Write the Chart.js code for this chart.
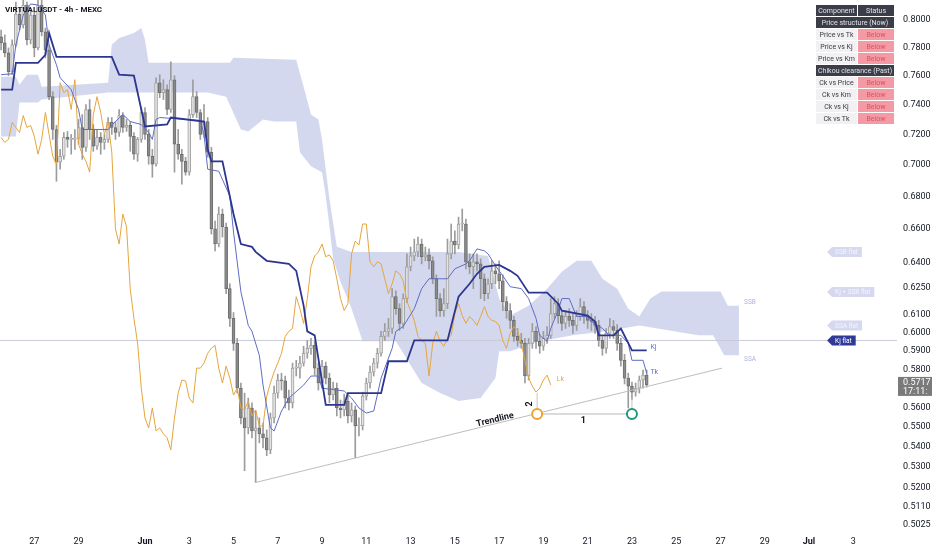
<!DOCTYPE html>
<html>
<head>
<meta charset="utf-8">
<title>VIRTUALUSDT 4h</title>
<script src="https://cdn.jsdelivr.net/npm/chart.js@4.4.0/dist/chart.umd.min.js"></script>
<style>
  body { margin: 0; background: #fff; }
  #wrap { position: relative; width: 932px; height: 550px; overflow: hidden; }
  .title { position: absolute; left: 5px; top: 5px; font: bold 8px Roboto, sans-serif; color: #131722; }
  table.status { position: absolute; left: 815px; top: 4px; border-collapse: separate; border-spacing: 1px; font-family: Roboto, sans-serif; font-size: 7px; }
  table.status td { height: 11px; padding: 0 2px; text-align: center; white-space: nowrap; }
  td.dark { background: #3b3e49; color: #e3e3e6; }
  td.name { background: #f1f1f4; color: #3a3a3a; width: 34px; }
  td.bad { background: #f49aa5; color: #d95262; width: 32px; }
</style>
</head>
<body>
<div id="wrap">
  <canvas id="chart" width="932" height="550"></canvas>
  <div class="title">VIRTUALUSDT - 4h - MEXC</div>
  <table class="status" id="status"></table>
</div>
<script>
// 4h candles, bar 0 = May 25 12:00, last bar = Jun 23 16:00
const firstOpen = 0.7877;
const closes = [
  0.7833, 0.7761, 0.7628, 0.7819, 0.8044, 0.7963, 0.8111, 0.7855, 0.8037, 0.7797,
  0.8111, 0.7913, 0.7783, 0.7455, 0.7233, 0.7018, 0.7057, 0.7180, 0.7167, 0.7167,
  0.7174, 0.7246, 0.7115, 0.7367, 0.7233, 0.7122, 0.7180, 0.7148, 0.7167, 0.7280,
  0.7246, 0.7213, 0.7326, 0.7246, 0.7260, 0.7187, 0.7070, 0.7167, 0.7347, 0.7200,
  0.7057, 0.7005, 0.7551, 0.7483, 0.7503, 0.7367, 0.7572, 0.7135, 0.7070, 0.7024,
  0.6954, 0.7333, 0.7455, 0.7347, 0.7200, 0.7286, 0.7083, 0.6600, 0.6509, 0.6691,
  0.6612, 0.6247, 0.6078, 0.5940, 0.5700, 0.5546, 0.5495, 0.5597, 0.5480, 0.5495,
  0.5465, 0.5445, 0.5385, 0.5546, 0.5674, 0.5743, 0.5738, 0.5648, 0.5623, 0.5806,
  0.5806, 0.5833, 0.5886, 0.5913, 0.5929, 0.5806, 0.5727, 0.5817, 0.5753, 0.5664,
  0.5700, 0.5597, 0.5587, 0.5633, 0.5556, 0.5587, 0.5505, 0.5505, 0.5658, 0.5727,
  0.5785, 0.5833, 0.5886, 0.5978, 0.6006, 0.6022, 0.6201, 0.6133, 0.6050, 0.6190,
  0.6374, 0.6438, 0.6462, 0.6509, 0.6433, 0.6444, 0.6409, 0.6304, 0.6190, 0.6122,
  0.6161, 0.6450, 0.6527, 0.6503, 0.6630, 0.6630, 0.6403, 0.6374, 0.6403, 0.6391,
  0.6304, 0.6218, 0.6275, 0.6350, 0.6333, 0.6292, 0.6173, 0.6122, 0.6067, 0.5978,
  0.5956, 0.5940, 0.5764, 0.5940, 0.6006, 0.5951, 0.5924, 0.5967, 0.5984, 0.6105,
  0.6161, 0.6094, 0.6050, 0.6089, 0.6067, 0.6039, 0.6089, 0.6144, 0.6089, 0.6067,
  0.6061, 0.6039, 0.5956, 0.5913, 0.5995, 0.6033, 0.6011, 0.5940, 0.5848, 0.5753,
  0.5711, 0.5679, 0.5700, 0.5743, 0.5769, 0.5717
];
const highs = [
  0.7927, 0.7891, 0.7797, 0.7855, 0.8134, 0.8089, 0.8149, 0.8134, 0.8074, 0.8059,
  0.8149, 0.8149, 0.7941, 0.7819, 0.7489, 0.7260, 0.7102, 0.7213, 0.7220, 0.7200,
  0.7233, 0.7300, 0.7333, 0.7401, 0.7435, 0.7266, 0.7233, 0.7213, 0.7200, 0.7313,
  0.7313, 0.7286, 0.7367, 0.7347, 0.7300, 0.7286, 0.7213, 0.7180, 0.7380, 0.7380,
  0.7233, 0.7102, 0.7586, 0.7607, 0.7572, 0.7537, 0.7698, 0.7600, 0.7233, 0.7102,
  0.7050, 0.7367, 0.7572, 0.7489, 0.7367, 0.7401, 0.7313, 0.7115, 0.6648, 0.6734,
  0.6722, 0.6636, 0.6275, 0.6111, 0.5967, 0.5727, 0.5674, 0.5648, 0.5623, 0.5581,
  0.5546, 0.5520, 0.5485, 0.5571, 0.5711, 0.5774, 0.5779, 0.5764, 0.5690, 0.5833,
  0.5848, 0.5870, 0.5924, 0.5956, 0.5967, 0.5951, 0.5833, 0.5848, 0.5838, 0.5779,
  0.5732, 0.5727, 0.5638, 0.5669, 0.5658, 0.5623, 0.5607, 0.5546, 0.5679, 0.5753,
  0.5817, 0.5859, 0.5913, 0.6006, 0.6050, 0.6078, 0.6247, 0.6235, 0.6161, 0.6218,
  0.6450, 0.6491, 0.6539, 0.6551, 0.6539, 0.6491, 0.6480, 0.6433, 0.6327, 0.6218,
  0.6247, 0.6539, 0.6630, 0.6588, 0.6672, 0.6722, 0.6660, 0.6450, 0.6450, 0.6450,
  0.6421, 0.6333, 0.6304, 0.6409, 0.6391, 0.6409, 0.6327, 0.6201, 0.6161, 0.6089,
  0.6022, 0.5995, 0.5967, 0.5967, 0.6050, 0.6033, 0.5989, 0.6006, 0.6033, 0.6190,
  0.6201, 0.6190, 0.6122, 0.6122, 0.6133, 0.6105, 0.6122, 0.6190, 0.6173, 0.6122,
  0.6105, 0.6089, 0.6067, 0.5978, 0.6022, 0.6078, 0.6067, 0.6044, 0.5967, 0.5880,
  0.5779, 0.5732, 0.5727, 0.5764, 0.5796, 0.5796
];
const lows = [
  0.7783, 0.7733, 0.7600, 0.7607, 0.7805, 0.7927, 0.7941, 0.7819, 0.7826, 0.7733,
  0.7783, 0.7884, 0.7726, 0.7435, 0.7167, 0.6896, 0.6973, 0.7037, 0.7115, 0.7070,
  0.7102, 0.7135, 0.7037, 0.7089, 0.7167, 0.7089, 0.7102, 0.7070, 0.7102, 0.7148,
  0.7200, 0.7167, 0.7187, 0.7213, 0.7220, 0.7089, 0.7037, 0.7024, 0.7148, 0.7167,
  0.7005, 0.6922, 0.6992, 0.7448, 0.7435, 0.7333, 0.7347, 0.6954, 0.7037, 0.6878,
  0.6935, 0.6935, 0.7313, 0.7313, 0.7167, 0.7180, 0.7050, 0.6569, 0.6468, 0.6492,
  0.6551, 0.6218, 0.6033, 0.5902, 0.5674, 0.5515, 0.5283, 0.5465, 0.5445, 0.5225,
  0.5420, 0.5395, 0.5356, 0.5366, 0.5520, 0.5648, 0.5690, 0.5597, 0.5587, 0.5597,
  0.5764, 0.5753, 0.5817, 0.5859, 0.5880, 0.5769, 0.5690, 0.5700, 0.5722, 0.5623,
  0.5638, 0.5556, 0.5546, 0.5556, 0.5520, 0.5525, 0.5346, 0.5455, 0.5485, 0.5638,
  0.5700, 0.5764, 0.5806, 0.5870, 0.5956, 0.5978, 0.5995, 0.6100, 0.6011, 0.6022,
  0.6167, 0.6350, 0.6409, 0.6433, 0.6391, 0.6409, 0.6362, 0.6275, 0.6089, 0.6089,
  0.6089, 0.6133, 0.6421, 0.6450, 0.6480, 0.6588, 0.6362, 0.6333, 0.6247, 0.6350,
  0.6190, 0.6178, 0.6190, 0.6247, 0.6275, 0.6247, 0.6122, 0.6078, 0.6022, 0.5951,
  0.5924, 0.5913, 0.5727, 0.5743, 0.5913, 0.5913, 0.5886, 0.5902, 0.5940, 0.5967,
  0.6078, 0.6050, 0.6011, 0.6022, 0.6033, 0.5995, 0.6011, 0.6067, 0.6050, 0.6022,
  0.6011, 0.5995, 0.5924, 0.5875, 0.5886, 0.5967, 0.5967, 0.5902, 0.5817, 0.5722,
  0.5597, 0.5638, 0.5658, 0.5674, 0.5700, 0.5706
];

// lagging span = close plotted 26 bars back
const chikouShift = 26;

const tenkanBars = [0, 3, 4, 6, 8, 10, 12, 13, 15, 16, 19, 21, 22, 29, 31, 33, 35, 38, 40, 41,
  42, 43, 54, 55, 56, 59, 62, 63, 65, 67, 68, 70, 71, 73, 74, 76, 78, 82, 84, 86,
  87, 93, 95, 97, 99, 101, 103, 106, 107, 109, 112, 114, 116, 121, 123, 126, 127, 129, 131, 132,
  134, 136, 138, 141, 143, 145, 146, 148, 149, 151, 152, 154, 156, 159, 160, 163, 165, 168, 170, 171,
  174, 175];
const tenkanVals = [0.7607, 0.7614, 0.7819, 0.8037, 0.8119, 0.8111, 0.8037, 0.7819, 0.7677, 0.7586,
  0.7503, 0.7367, 0.7233, 0.7233, 0.7286, 0.7333, 0.7286, 0.7266, 0.7213, 0.7167,
  0.7300, 0.7313, 0.7293, 0.7200, 0.6973, 0.6960, 0.6803, 0.6581, 0.6229, 0.6039,
  0.6006, 0.5875, 0.5716, 0.5495, 0.5480, 0.5581, 0.5648, 0.5716, 0.5764, 0.5764,
  0.5700, 0.5685, 0.5648, 0.5597, 0.5571, 0.5581, 0.5753, 0.5913, 0.6006, 0.6033,
  0.6133, 0.6247, 0.6304, 0.6304, 0.6362, 0.6391, 0.6409, 0.6480, 0.6468, 0.6450,
  0.6380, 0.6321, 0.6258, 0.6247, 0.6190, 0.6078, 0.5984, 0.5951, 0.6022, 0.6122,
  0.6190, 0.6190, 0.6089, 0.6089, 0.6061, 0.6022, 0.5984, 0.5984, 0.5940, 0.5848,
  0.5848, 0.5779];

const kijunBars = [0, 3, 4, 10, 12, 13, 15, 30, 32, 36, 38, 39, 45, 46, 55, 56, 57, 60, 63, 65,
  68, 69, 72, 78, 80, 82, 83, 85, 86, 88, 93, 94, 103, 105, 110, 112, 121, 124, 127, 129,
  131, 135, 138, 140, 143, 148, 151, 152, 159, 161, 162, 166, 168, 171, 175];
const kijunVals = [0.7503, 0.7503, 0.7691, 0.7691, 0.7747, 0.7905, 0.7733, 0.7733, 0.7607, 0.7600,
  0.7367, 0.7253, 0.7266, 0.7313, 0.7286, 0.7102, 0.7024, 0.7024, 0.6691, 0.6509,
  0.6492, 0.6462, 0.6409, 0.6391, 0.6350, 0.6150, 0.6006, 0.5984, 0.5859, 0.5613,
  0.5613, 0.5674, 0.5674, 0.5843, 0.5843, 0.5956, 0.5956, 0.6201, 0.6275, 0.6333,
  0.6374, 0.6385, 0.6350, 0.6321, 0.6224, 0.6224, 0.6161, 0.6122, 0.6094, 0.6061,
  0.5984, 0.5984, 0.6022, 0.5902, 0.5902];

// cloud edges, projected 26 bars ahead
const cloudTopBars = [0, 4, 5, 7, 10, 11, 29, 30, 32, 36, 38, 39, 40, 62, 63, 80, 82, 84, 86, 87,
  89, 91, 95, 124, 132, 135, 138, 143, 148, 152, 156, 160, 163, 167, 170, 173, 176, 179, 195, 197, 200];
const cloudTopVals = [0.7593, 0.7593, 0.7537, 0.7607, 0.7607, 0.7523, 0.7551, 0.7819, 0.7869, 0.7905,
  0.7941, 0.7855, 0.7691, 0.7691, 0.7726, 0.7712, 0.7523, 0.7333, 0.7300, 0.7167,
  0.6784, 0.6492, 0.6462, 0.6462, 0.6438, 0.6190, 0.6094, 0.6150, 0.6247, 0.6345,
  0.6409, 0.6409, 0.6304, 0.6247, 0.6133, 0.6089, 0.6190, 0.6230, 0.6230, 0.6150, 0.6150];
const cloudBottomBars = [0, 4, 5, 10, 11, 29, 56, 61, 65, 67, 71, 74, 80, 81, 84, 87, 88, 89, 90, 92,
  95, 98, 107, 111, 114, 119, 124, 130, 134, 135, 138, 146, 155, 164, 173, 189, 193, 196, 200];
const cloudBottomVals = [0.7187, 0.7187, 0.7415, 0.7415, 0.7435, 0.7483, 0.7483, 0.7455, 0.7233, 0.7220,
  0.7300, 0.7286, 0.7286, 0.7083, 0.6992, 0.6954, 0.6803, 0.6618, 0.6421, 0.6287,
  0.6133, 0.5951, 0.5951, 0.5822, 0.5727, 0.5674, 0.5633, 0.5648, 0.5753, 0.5897,
  0.5897, 0.5951, 0.5984, 0.6006, 0.6039, 0.5984, 0.5984, 0.5875, 0.5875];

const dateTickBars = [9, 21, 39, 51, 63, 75, 87, 99, 111, 123, 135, 147, 159, 171, 183, 195, 207, 219, 231];
const dateTickLabels = ['27', '29', 'Jun', '3', '5', '7', '9', '11', '13', '15', '17', '19', '21', '23', '25', '27', '29', 'Jul', '3'];
const monthTickBars = [39, 219];
const priceTicks = [0.80, 0.78, 0.76, 0.74, 0.72, 0.70, 0.68, 0.66, 0.64, 0.625, 0.61, 0.60, 0.59, 0.58, 0.56, 0.55, 0.54, 0.53, 0.52, 0.511, 0.5025];

const trendBars = [68.8, 195.4];
const trendVals = [0.5225, 0.5806];
const pivotBars = [145.3, 171];
const pivotVal = 0.5566;
const pivotTops = [0.5674, 0.5648];
const kjFlat = 0.5956;
const lastPrice = 0.5717;

const tagTexts = ['SSB flat', 'Kj + SSB flat', 'SSA flat', 'Kj flat'];
const tagVals = [0.6462, 0.6227, 0.6039, 0.5956];

const tableRows = [
  ['Component', 'Status'],
  ['Price structure (Now)'],
  ['Price vs Tk', 'Below'],
  ['Price vs Kj', 'Below'],
  ['Price vs Km', 'Below'],
  ['Chikou clearance (Past)'],
  ['Ck vs Price', 'Below'],
  ['Ck vs Km', 'Below'],
  ['Ck vs Kj', 'Below'],
  ['Ck vs Tk', 'Below']
];

document.getElementById('status').innerHTML = tableRows.map((r, k) => {
  if (r.length === 1) return `<tr><td class="dark" colspan="2">${r[0]}</td></tr>`;
  if (k === 0) return `<tr><td class="dark">${r[0]}</td><td class="dark">${r[1]}</td></tr>`;
  return `<tr><td class="name">${r[0]}</td><td class="bad">${r[1]}</td></tr>`;
}).join('');

const pts = (xs, ys) => xs.map((x, k) => ({ x, y: ys[k] }));
const bars = closes.map((_, i) => i);
const opens = closes.map((c, i) => (i ? closes[i - 1] : firstOpen));
const isUp = i => closes[i] >= opens[i];

const lineBase = { type: 'line', pointRadius: 0, tension: 0, fill: false };

// keep the plot flush with the canvas edges, like the TradingView pane
const noPad = ax => { ax.paddingLeft = 0; ax.paddingRight = 0; ax.paddingTop = 0; ax.paddingBottom = 0; };

const overlay = {
  id: 'overlay',
  afterDatasetsDraw(chart) {
    const { ctx, scales: { x, y } } = chart;
    const X = v => x.getPixelForValue(v);
    const Y = v => y.getPixelForValue(v);
    ctx.save();
    ctx.textBaseline = 'middle';

    const text = (s, bx, val, font, color, align) => {
      ctx.font = font;
      ctx.fillStyle = color;
      ctx.textAlign = align || 'left';
      ctx.fillText(s, X(bx), Y(val));
    };
    text('Lk', 150.6, 0.5748, '7px Roboto', '#e5a53d');
    text('Kj', 176, 0.5918, '7px Roboto', '#5e6cc4');
    text('Tk', 176, 0.5785, '7px Roboto', '#5e6cc4');
    text('SSB', 201.4, 0.6167, '6.5px Roboto', '#aeb4dc');
    text('SSA', 201.4, 0.5854, '6.5px Roboto', '#aeb4dc');
    text('1', 157.8, 0.5530, 'bold 9px Roboto', '#131722', 'center');

    // label along the trendline
    const ang = Math.atan2(Y(trendVals[1]) - Y(trendVals[0]), X(trendBars[1]) - X(trendBars[0]));
    ctx.save();
    ctx.translate(X(133.9), Y(0.5536));
    ctx.rotate(ang);
    ctx.font = 'bold 9px Roboto';
    ctx.fillStyle = '#131722';
    ctx.textAlign = 'center';
    ctx.fillText('Trendline', 0, 0);
    ctx.restore();

    ctx.save();
    ctx.translate(X(143.4), Y(0.5618));
    ctx.rotate(-Math.PI / 2);
    ctx.font = 'bold 9px Roboto';
    ctx.fillStyle = '#131722';
    ctx.textAlign = 'center';
    ctx.fillText('2', 0, 0);
    ctx.restore();

    // state tags on the right
    tagTexts.forEach((s, k) => {
      const px = X(223.9), py = Y(tagVals[k]);
      const dark = k === tagTexts.length - 1;
      ctx.font = '6.5px Roboto';
      const w = ctx.measureText(s).width + 7;
      ctx.beginPath();
      ctx.moveTo(px, py);
      ctx.lineTo(px + 5, py - 5);
      ctx.lineTo(px + 5 + w, py - 5);
      ctx.lineTo(px + 5 + w, py + 5);
      ctx.lineTo(px + 5, py + 5);
      ctx.closePath();
      ctx.fillStyle = dark ? '#2f3a98' : '#d5d8ef';
      ctx.fill();
      ctx.fillStyle = dark ? '#ffffff' : '#f4f5fc';
      ctx.textAlign = 'left';
      ctx.fillText(s, px + 8, py + 0.5);
    });
    ctx.restore();
  },
  afterDraw(chart) {
    const { ctx, chartArea, scales: { y } } = chart;
    const py = y.getPixelForValue(lastPrice);
    ctx.save();
    ctx.fillStyle = '#7a7a7a';
    ctx.fillRect(chartArea.right + 1, py - 8, 34, 19);
    ctx.fillStyle = '#ffffff';
    ctx.font = '9px Roboto';
    ctx.textBaseline = 'middle';
    ctx.textAlign = 'left';
    ctx.fillText(lastPrice.toFixed(4), chartArea.right + 6, py - 2);
    ctx.fillText('17:11:', chartArea.right + 6, py + 7);
    ctx.restore();
  }
};

new Chart(document.getElementById('chart'), {
  type: 'line',
  data: {
    datasets: [
      { ...lineBase, label: 'Cloud top', data: pts(cloudTopBars, cloudTopVals), borderColor: 'transparent', order: 20 },
      { ...lineBase, label: 'Cloud', data: pts(cloudBottomBars, cloudBottomVals), borderColor: 'transparent',
        fill: '-1', backgroundColor: 'rgba(121,134,203,0.32)', order: 19 },
      { ...lineBase, label: 'Kj flat', data: [{ x: -1, y: kjFlat }, { x: 244, y: kjFlat }],
        borderColor: '#c8cad6', borderWidth: 1, order: 15 },
      { type: 'bar', label: 'Wicks', data: bars.map(i => ({ x: i, y: [lows[i], highs[i]] })),
        backgroundColor: '#9c9c9c', barThickness: 1, grouped: false, minBarLength: 1, order: 9 },
      { type: 'bar', label: 'Bodies', data: bars.map(i => ({ x: i, y: [opens[i], closes[i]] })),
        backgroundColor: bars.map(i => (isUp(i) ? '#e2e2e2' : '#8b8b8b')),
        borderColor: bars.map(i => (isUp(i) ? '#a2a2a2' : '#6e6e6e')),
        borderWidth: 1, borderSkipped: false, barThickness: 3, grouped: false, minBarLength: 1, order: 8 },
      { ...lineBase, label: 'Lagging span', data: closes.slice(chikouShift).map((c, k) => ({ x: k, y: c })),
        borderColor: '#e5a53d', borderWidth: 1, order: 4 },
      { ...lineBase, label: 'Tenkan', data: pts(tenkanBars, tenkanVals), borderColor: '#5e6cc4', borderWidth: 1, order: 3 },
      { ...lineBase, label: 'Kijun', data: pts(kijunBars, kijunVals), borderColor: '#2c3690', borderWidth: 1.8, order: 2 },
      { ...lineBase, label: 'Trendline', data: pts(trendBars, trendVals), borderColor: '#bdbdbd', borderWidth: 1, order: 1 },
      { ...lineBase, label: 'Ruler', data: pivotBars.map(b => ({ x: b, y: pivotVal })), borderColor: '#b8b8b8', borderWidth: 1, order: 1 },
      { ...lineBase, label: 'Stem 2', data: [{ x: pivotBars[0], y: pivotVal }, { x: pivotBars[0], y: pivotTops[0] }],
        borderColor: '#c4c4c4', borderWidth: 1, order: 1 },
      { ...lineBase, label: 'Stem 1', data: [{ x: pivotBars[1], y: pivotVal }, { x: pivotBars[1], y: pivotTops[1] }],
        borderColor: '#c4c4c4', borderWidth: 1, order: 1 },
      { ...lineBase, label: 'Pivots', data: pivotBars.map(b => ({ x: b, y: pivotVal })), showLine: false,
        pointRadius: 5, pointBorderWidth: 2, pointBorderColor: ['#f0a12e', '#1d9a7a'], pointBackgroundColor: '#ffffff', order: 0 }
    ]
  },
  options: {
    responsive: false,
    animation: false,
    events: [],
    layout: { padding: 0, autoPadding: false },
    plugins: { legend: { display: false }, tooltip: { enabled: false } },
    scales: {
      x: {
        type: 'linear', min: -0.3, max: 242.85, offset: false,
        grid: { display: false, drawTicks: false }, border: { display: false },
        afterBuildTicks: ax => { ax.ticks = dateTickBars.map(v => ({ value: v })); },
        afterFit: ax => { ax.height = 18; noPad(ax); },
        ticks: {
          autoSkip: false, maxRotation: 0, padding: 4, color: '#131722',
          font: c => ({ family: 'Roboto', size: 9, weight: c.tick && monthTickBars.includes(c.tick.value) ? 'bold' : 'normal' }),
          callback: v => dateTickLabels[dateTickBars.indexOf(v)]
        }
      },
      y: {
        type: 'logarithmic', position: 'right', min: 0.49929, max: 0.81487,
        grid: { display: false, drawTicks: false }, border: { display: false },
        afterBuildTicks: ax => { ax.ticks = priceTicks.map(v => ({ value: v })); },
        afterFit: ax => { ax.width = 35; noPad(ax); },
        ticks: {
          autoSkip: false, padding: 6, color: '#131722',
          font: { family: 'Roboto', size: 9 },
          callback: v => Number(v).toFixed(4)
        }
      }
    }
  },
  plugins: [overlay]
});
</script>
</body>
</html>
